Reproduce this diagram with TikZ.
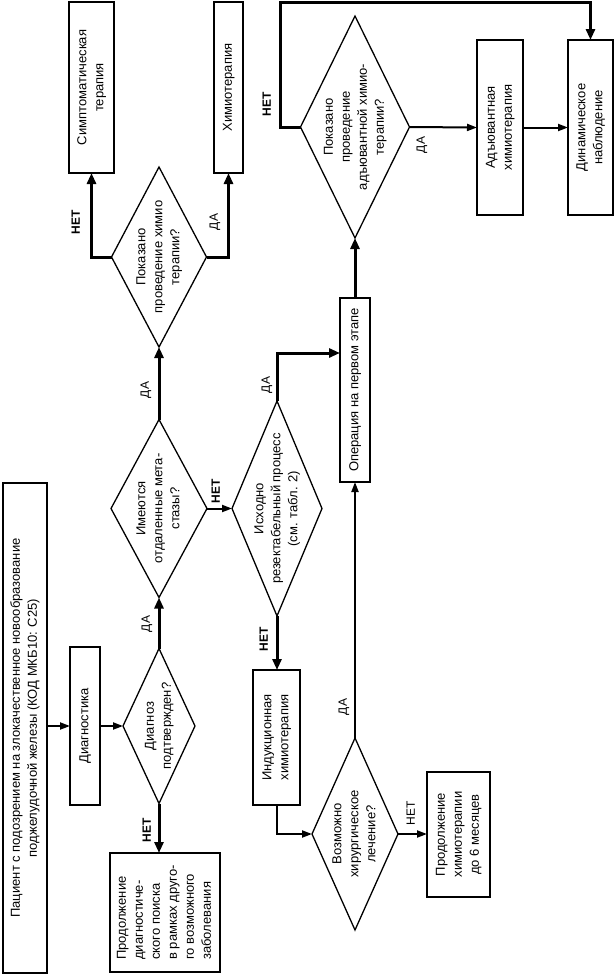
\documentclass[tikz,border=0pt]{standalone}
\usepackage{fontspec}
\setmainfont{Liberation Sans}
\usetikzlibrary{shapes.geometric,arrows.meta}
\newcommand\rt[2][c]{\makebox[0pt]{\raisebox{-.5\height}[0pt][0pt]{\rotatebox{90}{\begin{tabular}{@{}#1@{}}#2\end{tabular}}}}}
\tikzset{
  base/.style={inner sep=0pt, outer sep=0pt, font=\fontsize{13}{17}\selectfont},
  box/.style={base, draw, line width=2pt, rectangle},
  dia/.style={base, draw, line width=1.3pt, diamond},
  lab/.style={inner sep=0pt, outer sep=0pt, font=\fontsize{12}{14}\selectfont},
  arr/.style={line width=2pt, -{Triangle[length=10pt,width=7pt]}},
  tarr/.style={line width=3pt, -{Triangle[length=11pt,width=9pt]}},
}
\begin{document}
\begin{tikzpicture}[x=1pt,y=-1pt]
\useasboundingbox (0,0) rectangle (616,975);
% boxes
\node[box, minimum width=44pt, minimum height=490pt] (pat) at (25,728) {\rt{Пациент с подозрением на злокачественное новообразование\\поджелудочной железы (КОД МКБ10: C25)}};
\node[box, minimum width=30pt, minimum height=158pt] (diag) at (85,726) {\rt{Диагностика}};
\node[box, minimum width=110pt, minimum height=119pt] (prod1) at (165,912.5) {\rt[l]{Продолжение\\диагностиче-\\ского поиска\\в рамках друго-\\го возможного\\заболевания}};
\node[box, minimum width=45pt, minimum height=171pt] (symp) at (91.5,87.5) {\rt{Симптоматическая\\терапия}};
\node[box, minimum width=29pt, minimum height=171pt] (chemo) at (228.5,87.5) {\rt{Химиотерапия}};
\node[box, minimum width=47pt, minimum height=135pt] (induc) at (276.5,737.5) {\rt{Индукционная\\химиотерапия}};
\node[box, minimum width=63pt, minimum height=125pt] (prod2) at (458.5,834.5) {\rt{Продолжение\\химиотерапии\\до 6 месяцев}};
\node[box, minimum width=30pt, minimum height=184pt] (oper) at (355,390) {\rt{Операция на первом этапе}};
\node[box, minimum width=46pt, minimum height=175pt] (adj) at (500,127.5) {\rt{Адъювантная\\химиотерапия}};
\node[box, minimum width=45pt, minimum height=175pt] (dyn) at (590.5,127.5) {\rt{Динамическое\\наблюдение}};
% diamonds
\node[dia, minimum width=72pt, minimum height=155pt] (d1) at (159,726) {\rt{Диагноз\\подтвержден?}};
\node[dia, minimum width=96pt, minimum height=178pt] (d2) at (159,508.5) {\rt{Имеются\\отдаленные мета-\\стазы?}};
\node[dia, minimum width=95pt, minimum height=180pt] (d6) at (159,257) {\rt{Показано\\проведение химио\\терапии?}};
\node[dia, minimum width=90pt, minimum height=215pt] (d3) at (277,508.5) {\rt{Исходно\\резектабельный процесс\\(см. табл. 2)}};
\node[dia, minimum width=86pt, minimum height=192pt] (d4) at (355,834) {\rt{Возможно\\хирургическое\\лечение?}};
\node[dia, minimum width=109pt, minimum height=222pt] (d5) at (355,127) {\rt{Показано\\проведение\\адъювантной химио-\\терапии?}};
% connectors
\draw[arr] (pat.east |- diag.west) -- (diag.west);
\draw[arr] (diag.east) -- (d1.west);
\draw[tarr] (d1.south) -- (d1.south |- prod1.north);
\draw[tarr] (d1.north) -- (d2.south);
\draw[tarr] (d2.north) -- (d6.south);
\draw[tarr] (d6.west) -| (symp.south);
\draw[tarr] (d6.east) -| (chemo.south);
\draw[arr] (d2.east) -- (d3.west);
\draw[tarr] (d3.south) -- (d3.south |- induc.north);
\draw[arr] (induc.south) |- (d4.west);
\draw[arr] (d4.east) -- (d4.east -| prod2.west);
\draw[arr] (d4.north) -- (oper.south);
\draw[tarr] (d3.north) |- ([yshift=37pt]oper.west);
\draw[tarr] (oper.north) -- (d5.south);
\draw[arr] (d5.east) -- (adj.west);
\draw[arr] (adj.east) -- (dyn.west);
\coordinate (lp) at (280,2);
\draw[tarr] (d5.west) -| (lp) -| (dyn.north);
% labels
\node[lab] (l1) at (148,830) {\rt{\bfseries НЕТ}};
\node[lab] (l2) at (147,624) {\rt{ДА}};
\node[lab] (l3) at (146,390) {\rt{ДА}};
\node[lab] (l4) at (217,491) {\rt{\bfseries НЕТ}};
\node[lab] (l5) at (265,639) {\rt{\bfseries НЕТ}};
\node[lab] (l6) at (267,385) {\rt{ДА}};
\node[lab] (l7) at (77,222) {\rt{\bfseries НЕТ}};
\node[lab] (l8) at (215,222) {\rt{ДА}};
\node[lab] (l9) at (344,707) {\rt{ДА}};
\node[lab] (l10) at (412,813) {\rt{НЕТ}};
\node[lab] (l11) at (268,104) {\rt{\bfseries НЕТ}};
\node[lab] (l12) at (422,145) {\rt{ДА}};
\end{tikzpicture}
\end{document}
